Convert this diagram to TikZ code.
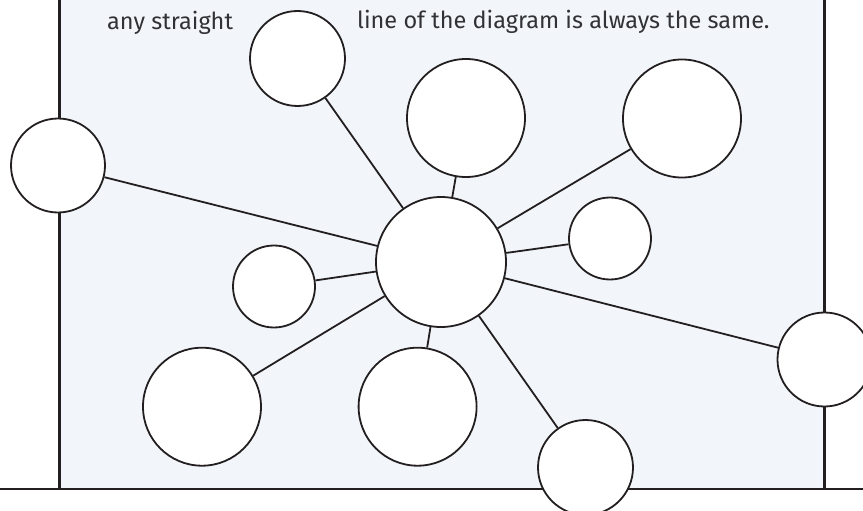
\documentclass[tikz,border=0pt]{standalone}
\usepackage{fontspec}
\setmainfont{Fira Sans}
\definecolor{panel}{RGB}{242,246,250}
\definecolor{ink}{RGB}{35,31,32}
\definecolor{words}{RGB}{50,50,54}

\begin{document}
\begin{tikzpicture}[x=1pt, y=-1pt,
    hub/.style={circle, draw=ink, fill=white, line width=1.8pt, inner sep=0pt},
    frame/.style={draw=ink, line width=2.6pt},
    caption/.style={anchor=base west, inner sep=0pt, text=words, font=\fontsize{23.5}{28}\selectfont}]
    \clip (0,0) rectangle (863,511);
    % panel
    \fill[panel] (59.5,-5) rectangle (824.5,489);
    \draw[frame] (59.5,-5) -- (59.5,489);
    \draw[frame] (824.5,-5) -- (824.5,489);
    \draw[frame] (0,489) -- (863,489);
    % text
    \node[caption] (t1) at (107,30) {any straight};
    \node[caption] (t2) at (357,29) {line of the diagram is always the same.};
    % circles
    \node[hub, minimum size=130pt] (0) at (441,262) {};
    \node[hub, minimum size=95pt] (1) at (297.5,58.5) {};
    \node[hub, minimum size=118pt] (2) at (466,118) {};
    \node[hub, minimum size=118pt] (3) at (682,118.5) {};
    \node[hub, minimum size=94pt] (4) at (58,165.5) {};
    \node[hub, minimum size=82pt] (5) at (610,238.5) {};
    \node[hub, minimum size=82pt] (6) at (274,286.5) {};
    \node[hub, minimum size=94pt] (7) at (824.5,359.5) {};
    \node[hub, minimum size=118pt] (8) at (202,406.7) {};
    \node[hub, minimum size=118pt] (9) at (417.6,406.7) {};
    \node[hub, minimum size=95pt] (10) at (585.5,467.5) {};
    % spokes
    \foreach \n in {1,...,10}
        \draw[ink, line width=1.8pt] (0) -- (\n);
\end{tikzpicture}
\end{document}
